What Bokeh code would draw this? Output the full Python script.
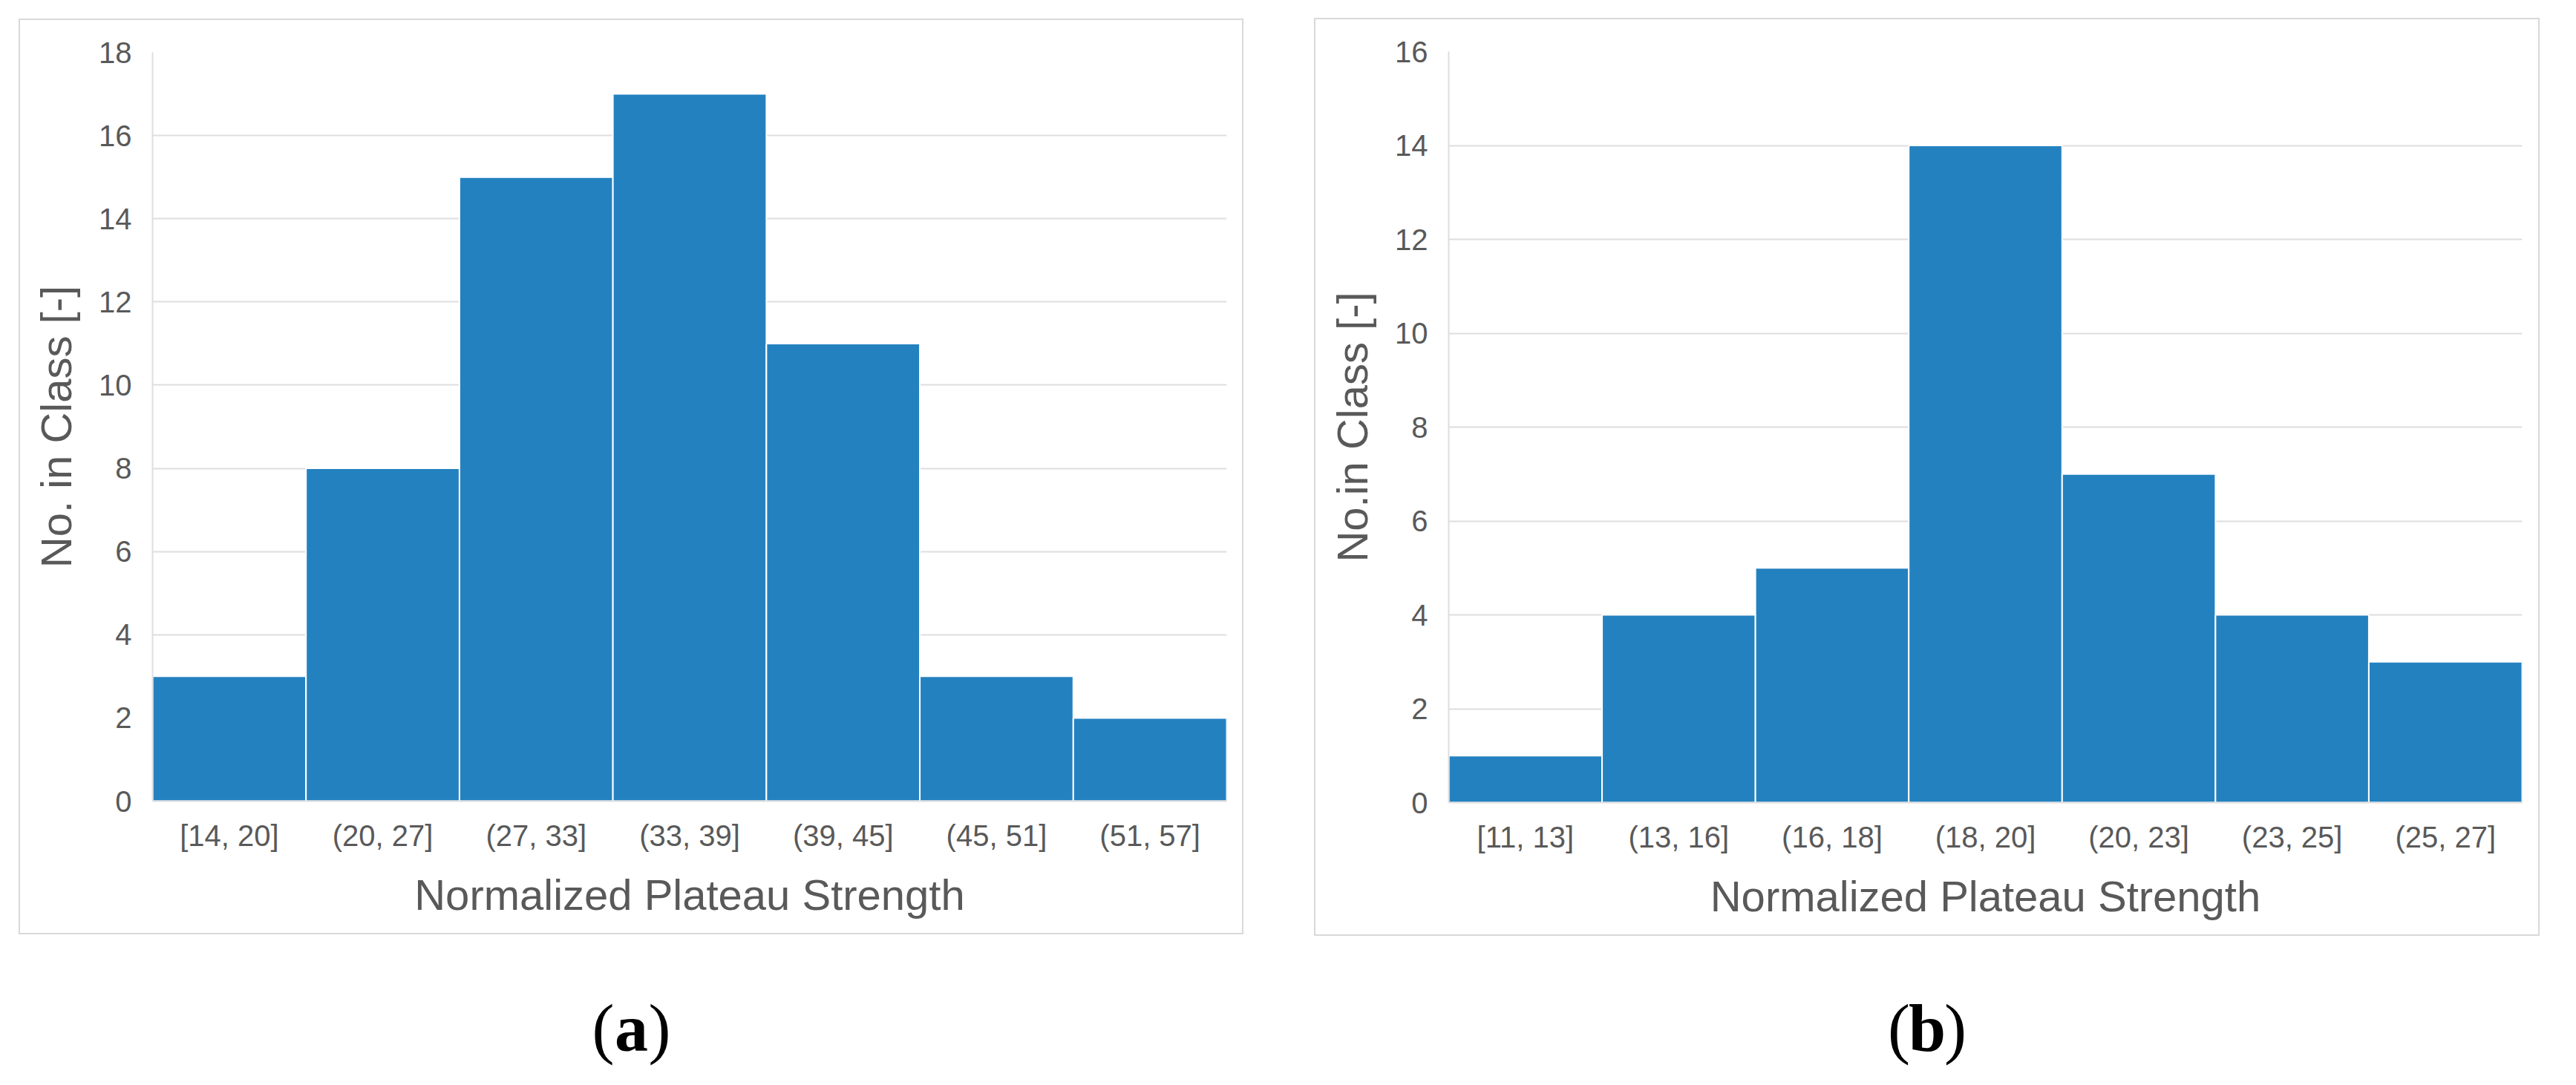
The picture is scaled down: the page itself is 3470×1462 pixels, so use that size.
from bokeh.plotting import figure
from bokeh.models import FactorRange, Range1d, SingleIntervalTicker
from bokeh.layouts import column, row
from bokeh.embed import file_html
from bokeh.resources import INLINE
from bokeh.core.properties import value

# ---- data ----
classes_a = ["[14, 20]", "(20, 27]", "(27, 33]", "(33, 39]", "(39, 45]", "(45, 51]", "(51, 57]"]
counts_a = [3, 8, 15, 17, 11, 3, 2]
classes_b = ["[11, 13]", "(13, 16]", "(16, 18]", "(18, 20]", "(20, 23]", "(23, 25]", "(25, 27]"]
counts_b = [1, 4, 5, 14, 7, 4, 3]
ymax_a = 18
ymax_b = 16
xtitle = "Normalized Plateau Strength"
ytitle_a = "No. in Class [-]"
ytitle_b = "No.in Class [-]"
caption_letters = ["a", "b"]

BAR = "#2481c0"
GRID = "#dedede"
TXT = "#595959"
FONT = "Liberation Sans"


def panel(classes, counts, ymax, ytitle, w, h, fl, ft, fr, fb, margin):
    p = figure(x_range=FactorRange(*classes), y_range=Range1d(0, ymax),
               width=w, height=h, output_backend="svg", toolbar_location=None,
               min_border_left=fl, min_border_top=ft, min_border_right=fr, min_border_bottom=fb,
               margin=margin)
    p.styles = {"border": "2px solid #d9d9d9", "box-sizing": "border-box"}
    p.vbar(x=classes, top=counts, width=1.0, fill_color=BAR, line_color="white", line_width=2)
    p.outline_line_color = None
    p.background_fill_color = "white"
    p.border_fill_color = "white"
    p.xgrid.grid_line_color = None
    p.ygrid.grid_line_color = GRID
    p.ygrid.grid_line_width = 2
    p.yaxis.ticker = SingleIntervalTicker(interval=2)
    for ax in (p.xaxis[0], p.yaxis[0]):
        ax.axis_line_color = GRID
        ax.axis_line_width = 2
        ax.major_tick_line_color = None
        ax.minor_tick_line_color = None
        ax.major_tick_out = 0
        ax.major_label_text_font = FONT
        ax.major_label_text_font_size = "40px"
        ax.major_label_text_color = TXT
        ax.axis_label_text_font = FONT
        ax.axis_label_text_font_size = "58px"
        ax.axis_label_text_font_style = "normal"
        ax.axis_label_text_color = TXT
    p.xaxis.major_label_standoff = 24
    p.xaxis.axis_label_standoff = 22
    p.yaxis.major_label_standoff = 24
    p.yaxis.axis_label_standoff = 22
    p.xaxis.axis_label = xtitle
    p.yaxis.axis_label = ytitle
    return p


def caption(letter, w, h, margin):
    c = figure(x_range=Range1d(0, 1), y_range=Range1d(0, 1), width=w, height=h,
               output_backend="svg", toolbar_location=None, margin=margin,
               min_border=0)
    c.axis.visible = False
    c.grid.visible = False
    c.outline_line_color = None
    yc = 0.30
    c.text(x=[0.5], y=[yc], text=[letter], text_font=value("Liberation Serif"),
           text_font_style="bold", text_font_size="90px", text_color="black",
           text_align="center", text_baseline="middle")
    c.text(x=[0.5], y=[yc], text=["("], text_font=value("Liberation Serif"),
           text_font_size="90px", text_color="black", x_offset=-23,
           text_align="right", text_baseline="middle")
    c.text(x=[0.5], y=[yc], text=[")"], text_font=value("Liberation Serif"),
           text_font_size="90px", text_color="black", x_offset=23,
           text_align="left", text_baseline="middle")
    return c


pa = panel(classes_a, counts_a, ymax_a, ytitle_a, 1650, 1234, 178, 43, 25, 181, (25, 0, 0, 25))
pb = panel(classes_b, counts_b, ymax_b, ytitle_b, 1651, 1237, 179, 41, 26, 182, (24, 0, 0, 95))
ca = caption(caption_letters[0], 1650, 177, (0, 0, 0, 25))
cb = caption(caption_letters[1], 1651, 177, (0, 0, 0, 95))

layout = column(row(pa, pb), row(ca, cb))

open("out.html", "w").write(file_html(layout, INLINE))
